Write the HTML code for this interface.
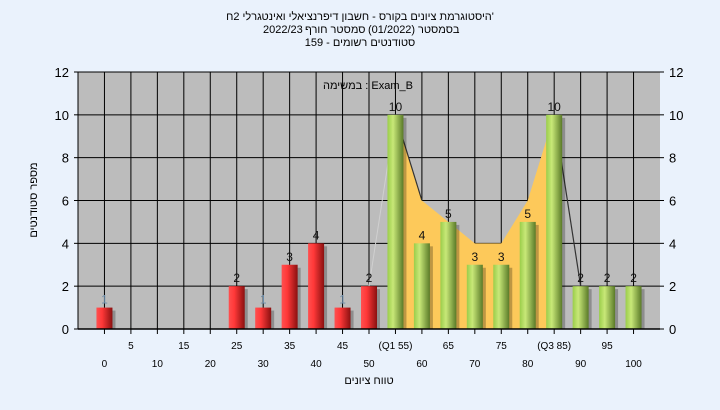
<!DOCTYPE html>
<html><head><meta charset="utf-8">
<style>
body{margin:0;width:720px;height:405px;background:#eaf2fc;font-family:"Liberation Sans","Noto Sans CJK SC",sans-serif;overflow:hidden}
svg text{font-family:"Liberation Sans","Noto Sans CJK SC",sans-serif}
</style></head><body>
<svg id="chart" width="720" height="405" xmlns="http://www.w3.org/2000/svg">
<defs>
<linearGradient id="gr" x1="0" x2="1"><stop offset="0" stop-color="#ff5050"/><stop offset="0.35" stop-color="#ff3838"/><stop offset="1" stop-color="#8a1010"/></linearGradient>
<linearGradient id="gg" x1="0" x2="1"><stop offset="0" stop-color="#9acd4a"/><stop offset="0.35" stop-color="#c8e878"/><stop offset="1" stop-color="#5a7a28"/></linearGradient>
</defs>
<rect x="0" y="0" width="720" height="405" fill="#eaf2fc"/>
<g font-size="11" fill="#000">
<text x="360" y="20" text-anchor="middle" direction="rtl">'היסטוגרמת ציונים בקורס - חשבון דיפרנציאלי ואינטגרלי 2ח</text>
<text x="263" y="33" text-anchor="start">2022/23</text>
<text x="305" y="33" text-anchor="start">סמסטר חורף</text>
<text x="368" y="33" text-anchor="start">(01/2022)</text>
<text x="418" y="33" text-anchor="start">בסמסטר</text>
<text x="360" y="46" text-anchor="middle" direction="rtl">סטודנטים רשומים - 159</text>
</g>
<rect x="78" y="72" width="582" height="257" fill="#bcbcbc"/>
<g id="grid"></g>
<g id="area"></g>
<g id="bars"></g>
<g id="axes"></g>
<text x="368" y="89" font-size="11" text-anchor="middle">במשימה : Exam_B</text>
<text x="369" y="384" font-size="11" text-anchor="middle">טווח ציונים</text>
<text transform="translate(37,200) rotate(-90)" font-size="11" text-anchor="middle">מספר סטודנטים</text>
</svg>
<script>
const categories=[0,5,10,15,20,25,30,35,40,45,50,55,60,65,70,75,80,85,90,95,100];
const counts=[1,0,0,0,0,2,1,3,4,1,2,10,4,5,3,3,5,10,2,2,2];
const areaValues=[10,6,5,4,4,6,10];
const areaStart=11;
const yTicks=[0,2,4,6,8,10,12];
const xLabels=["0","5","10","15","20","25","30","35","40","45","50","(Q1 55)","60","65","70","75","80","(Q3 85)","90","95","100"];
const NS="http://www.w3.org/2000/svg";
const L=78,R=660,T=72,B=329;
const step=(R-L)/22;
const x=i=>L+step*(i+1);
const y=v=>B-(B-T)*v/12;
function mk(tag,attrs,parent,txt){const e=document.createElementNS(NS,tag);for(const k in attrs)e.setAttribute(k,attrs[k]);if(txt!==undefined)e.textContent=txt;parent.appendChild(e);return e;}
const grid=document.getElementById('grid'),axes=document.getElementById('axes'),bars=document.getElementById('bars'),area=document.getElementById('area');
yTicks.forEach(t=>{
 const l=mk('line',{x1:L,x2:R,y1:y(t),y2:y(t),stroke:'#000','stroke-width':1},grid);
 
 
 const a=mk('text',{x:L-9,y:y(t)+5,'font-size':13,'text-anchor':'end'},axes,t);
 
 
 const b=mk('text',{x:R+9,y:y(t)+5,'font-size':13,'text-anchor':'start'},axes,t);
 
 
 mk('line',{x1:L-4,x2:L,y1:y(t),y2:y(t),stroke:'#000'},axes);
 mk('line',{x1:R,x2:R+4,y1:y(t),y2:y(t),stroke:'#000'},axes);
});
mk('line',{x1:L,x2:L,y1:T,y2:B,stroke:'#000'},grid);
categories.forEach((c,i)=>{
 const l=mk('line',{x1:x(i),x2:x(i),y1:T,y2:B,stroke:'#000','stroke-width':1},grid);
 
 
 mk('line',{x1:x(i),x2:x(i),y1:B,y2:B+5,stroke:'#000'},axes);
 const tl=mk('text',{x:x(i),y:i%2?349:367,'font-size':10,'text-anchor':'middle'},axes,xLabels[i]);
 
 
});
mk('line',{x1:L,x2:R,y1:B,y2:B,stroke:'#000','stroke-width':1.5},axes);
let pts=[[x(areaStart),y(0)]];
areaValues.forEach((v,k)=>pts.push([x(areaStart+k),y(v)]));
pts.push([x(areaStart+areaValues.length-1),y(0)]);
const poly=mk('polygon',{points:pts.map(p=>p.join(',')).join(' '),fill:'#fdc95a'},area);


const n=areaValues.length;
mk('polyline',{points:[[x(areaStart),y(areaValues[0])],[x(areaStart+1),y(areaValues[1])]].map(p=>p.join(',')).join(' '),fill:'none',stroke:'#333','stroke-width':1.2},area);
mk('polyline',{points:[[x(areaStart+n-1),y(areaValues[n-1])],[x(areaStart+n),y(counts[areaStart+n])]].map(p=>p.join(',')).join(' '),fill:'none',stroke:'#333','stroke-width':1.2},area);
mk('line',{x1:x(areaStart-1),y1:y(counts[areaStart-1]),x2:x(areaStart),y2:y(areaValues[0]),stroke:'#d0d0d0','stroke-width':1},area);
const bw=16;
counts.forEach((v,i)=>{
 const cx=x(i);
 const g=mk('g',{},bars);
 
 
 if(v>0){
  mk('rect',{x:cx-bw/2+3,y:y(v)+3,width:bw,height:y(0)-y(v)-3,fill:'#000',opacity:0.25},g);
  mk('rect',{x:cx-bw/2,y:y(v),width:bw,height:y(0)-y(v),fill:categories[i]<=50?'url(#gr)':'url(#gg)'},g);
  const t=mk('text',{x:cx,y:y(v)-4,'font-size':12,'text-anchor':'middle',fill:v===1?'#6a8caa':'#111'},g,v);
  
  
 }
});
</script>
</body></html>
